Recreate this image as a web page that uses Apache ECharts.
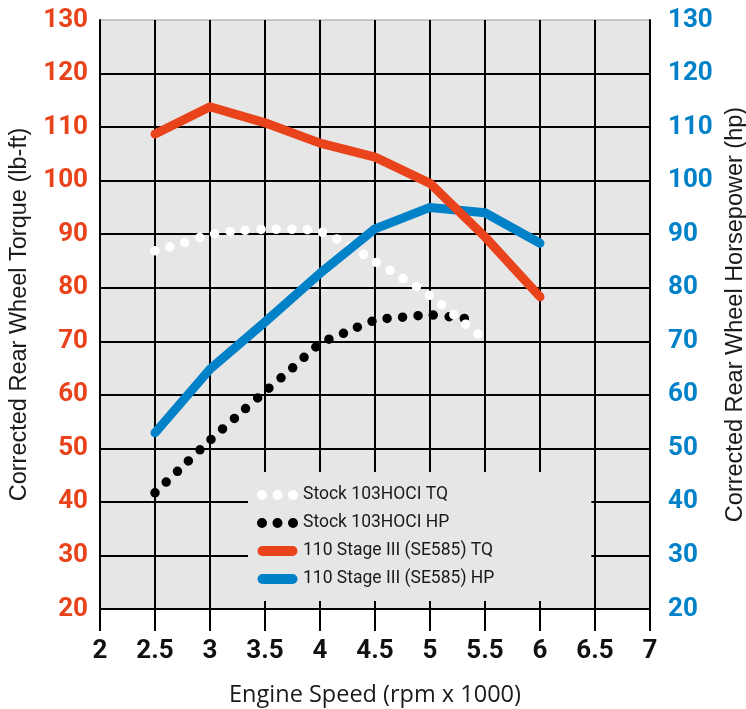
<!DOCTYPE html>
<html>
<head>
<meta charset="utf-8">
<style>
  html, body { margin: 0; padding: 0; background: #fff; }
  #main { width: 746px; height: 709px; }
</style>
<script src="https://cdn.jsdelivr.net/npm/echarts@6/dist/echarts.min.js"></script>
</head>
<body>
<div id="main"></div>
<script>
// engine speed, rpm x 1000
var rpmStage = [2.5, 3, 3.5, 4, 4.5, 5, 5.5, 6];
var stageTQ = [108.7, 113.8, 110.8, 107, 104.4, 99.5, 89.5, 78.3];
var stageHP = [52.9, 64.8, 73.6, 82.7, 91, 95, 94, 88.3];

var rpmStockTQ = [2.5, 2.75, 3, 3.25, 3.5, 3.75, 4, 4.25, 4.5, 4.75, 5, 5.25, 5.5];
var stockTQ = [86.9, 88.3, 89.9, 90.6, 90.9, 90.9, 90.5, 88, 84.9, 81.8, 78.5, 74.4, 70.3];

var rpmStockHP = [2.5, 2.75, 3, 3.25, 3.5, 3.75, 4, 4.25, 4.5, 4.75, 5, 5.25, 5.4];
var stockHP = [41.7, 46.6, 51.5, 56.1, 60.6, 65.0, 69.5, 71.8, 73.9, 74.5, 74.9, 74.4, 74.1];

var names = ['Stock 103HOCI TQ', 'Stock 103HOCI HP', '110 Stage III (SE585) TQ', '110 Stage III (SE585) HP'];

var orange = '#e8431a';
var blue = '#0081c8';
var font = 'Roboto';
var titleFont = 'Liberation Sans';

function pairs(xs, ys) {
    return xs.map(function (x, i) { return [x, ys[i]]; });
}

var dotsIcon = 'path://M0,5a5,5 0 1,0 10,0a5,5 0 1,0 -10,0M15.5,5a5,5 0 1,0 10,0a5,5 0 1,0 -10,0M31,5a5,5 0 1,0 10,0a5,5 0 1,0 -10,0';
var barIcon = 'path://M5,0L35,0A5,5 0 0,1 35,10L5,10A5,5 0 0,1 5,0Z';

var chartDom = document.getElementById('main');
var myChart = echarts.init(chartDom);
var option;

option = {
    animation: false,
    textStyle: { fontFamily: font },
    grid: {
        left: 100,
        right: 96,
        top: 20,
        bottom: 100,
        containLabel: false,
        outerBoundsMode: 'none',
        show: true,
        backgroundColor: '#e6e6e6',
        borderColor: '#999',
        borderWidth: 1
    },
    legend: {
        orient: 'vertical',
        left: 248,
        top: 472,
        backgroundColor: '#e6e6e6',
        padding: [14, 97, 13, 9],
        itemWidth: 41,
        itemHeight: 10,
        itemGap: 10,
        itemStyle: { borderWidth: 0 },
        textStyle: { fontSize: 17.5, color: '#1a1a1a', fontFamily: font },
        data: [
            { name: names[0], icon: dotsIcon },
            { name: names[1], icon: dotsIcon },
            { name: names[2], icon: barIcon },
            { name: names[3], icon: barIcon }
        ]
    },
    xAxis: {
        type: 'value',
        min: 2,
        max: 7,
        interval: 0.5,
        name: 'Engine Speed (rpm x 1000)',
        nameLocation: 'middle',
        nameGap: 74,
        nameTextStyle: { fontSize: 23.5, color: '#1a1a1a', fontFamily: 'Open Sans' },
        axisLine: { lineStyle: { color: '#000', width: 2 } },
        axisTick: { length: 22, lineStyle: { color: '#000', width: 2 } },
        axisLabel: { fontSize: 26, fontWeight: 'bold', color: '#111', margin: 29 },
        splitLine: { lineStyle: { color: '#000', width: 2 } }
    },
    yAxis: [
        {
            type: 'value',
            position: 'left',
            min: 20,
            max: 130,
            interval: 10,
            name: 'Corrected Rear Wheel Torque (lb-ft)',
            nameLocation: 'middle',
            nameRotate: 90,
            nameGap: 68,
            nameTextStyle: { fontSize: 23.5, color: '#1a1a1a', fontFamily: titleFont },
            axisLine: { show: true, lineStyle: { color: '#000', width: 2 } },
            axisTick: { show: false },
            axisLabel: { fontSize: 26, fontWeight: 'bold', color: orange, margin: 12 },
            splitLine: { showMaxLine: false, lineStyle: { color: '#000', width: 2 } }
        },
        {
            type: 'value',
            position: 'right',
            min: 20,
            max: 130,
            interval: 10,
            name: 'Corrected Rear Wheel Horsepower (hp)',
            nameLocation: 'middle',
            nameRotate: 90,
            nameGap: 72,
            nameTextStyle: { fontSize: 23.5, color: '#1a1a1a', fontFamily: titleFont },
            axisLine: { show: true, lineStyle: { color: '#000', width: 2 } },
            axisTick: { show: false },
            axisLabel: { fontSize: 26, fontWeight: 'bold', color: blue, margin: 18 },
            splitLine: { show: false }
        }
    ],
    series: [
        {
            name: names[1],
            type: 'line',
            yAxisIndex: 1,
            color: '#000',
            showSymbol: false,
            symbol: 'none',
            smooth: 0.3,
            data: pairs(rpmStockHP, stockHP),
            lineStyle: { color: '#000', width: 9.5, type: [0, 15.5], cap: 'round' }
        },
        {
            name: names[0],
            type: 'line',
            yAxisIndex: 0,
            color: '#fff',
            showSymbol: false,
            symbol: 'none',
            smooth: 0.3,
            data: pairs(rpmStockTQ, stockTQ),
            lineStyle: { color: '#fff', width: 9.5, type: [0, 15.5], cap: 'round' }
        },
        {
            name: names[3],
            type: 'line',
            yAxisIndex: 1,
            color: blue,
            showSymbol: false,
            symbol: 'none',
            data: pairs(rpmStage, stageHP),
            lineStyle: { color: blue, width: 9, cap: 'round', join: 'round' }
        },
        {
            name: names[2],
            type: 'line',
            yAxisIndex: 0,
            color: orange,
            showSymbol: false,
            symbol: 'none',
            data: pairs(rpmStage, stageTQ),
            lineStyle: { color: orange, width: 9, cap: 'round', join: 'round' }
        }
    ]
};

option && myChart.setOption(option);
</script>
</body>
</html>
